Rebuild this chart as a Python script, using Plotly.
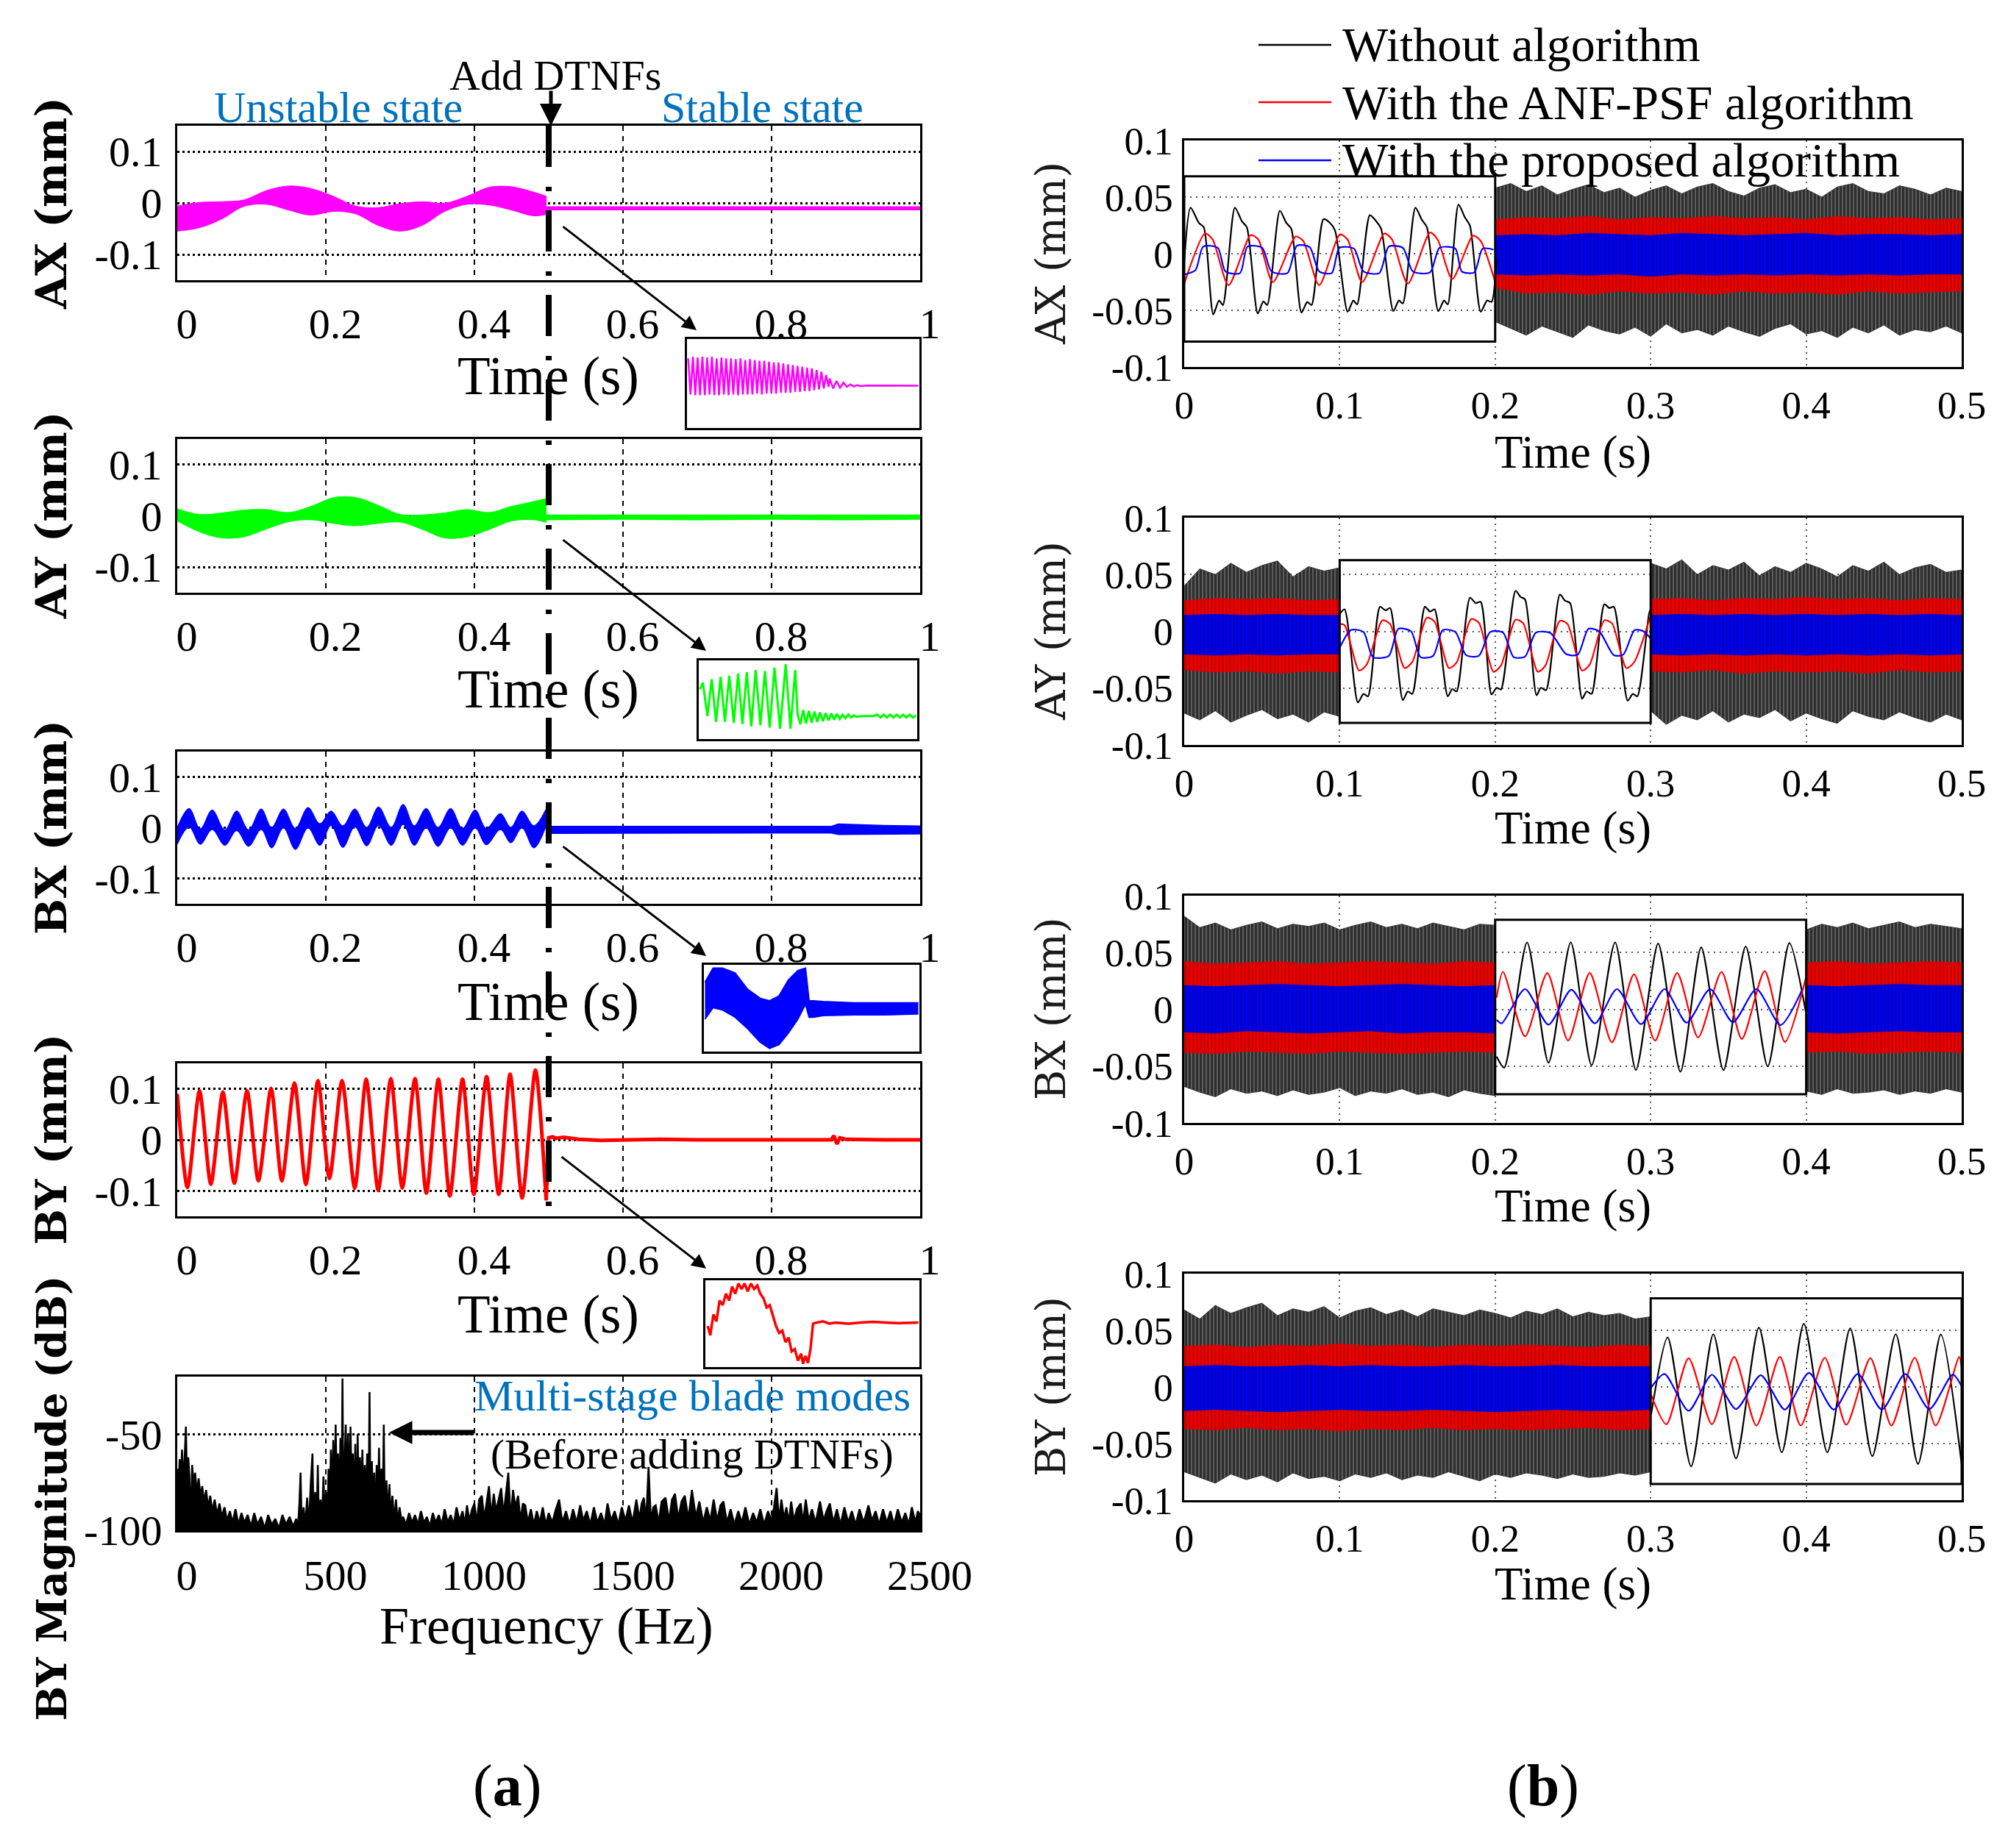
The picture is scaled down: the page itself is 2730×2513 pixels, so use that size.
import numpy as np
import plotly.graph_objects as go

W, H = 2730, 2513
OFF = 8  # page body margin in the browser
SERIF = "Liberation Serif"
SERIF_WIDE = "DejaVu Serif"
MAGENTA, GREEN, BLUE, RED, BLACK = "#ff00ff", "#00ff00", "#0000ff", "#ff0000", "#000000"
NOTE_BLUE = "#0072bd"

# ---------------------------------------------------------------- panel (a)
left_time_ticks = [0, 0.2, 0.4, 0.6, 0.8, 1]
left_time_text = ["0", "0.2", "0.4", "0.6", "0.8", "1"]
left_amp_ticks = [-0.1, 0, 0.1]
left_amp_text = ["-0.1", "0", "0.1"]
add_dtnfs_time = 0.5

# AX (magenta) envelope before / after the filters
ax_unst_t = [0, 0.03, 0.06, 0.09, 0.12, 0.15, 0.18, 0.21, 0.24, 0.27, 0.30, 0.33, 0.36, 0.39, 0.42, 0.45, 0.48, 0.497]
ax_unst_hi = [-0.006, 0.001, 0.0025, 0.006, 0.024, 0.033, 0.028, 0.013, -0.006, -0.009, -0.0015, 0.0025,
              -0.0005, 0.013, 0.0305, 0.0315, 0.021, 0.013]
ax_unst_lo = [-0.0547, -0.048, -0.031, -0.0064, -0.0025, -0.0138, -0.0236, -0.0163, -0.0212, -0.0433, -0.0547,
              -0.0433, -0.0163, -0.0025, -0.004, -0.0138, -0.0251, -0.022]
ax_stab_t = [0.497, 0.6, 0.7, 0.8, 0.9, 1.0]
ax_stab_hi = [-0.008, -0.008, -0.009, -0.008, -0.008, -0.008]
ax_stab_lo = [-0.013, -0.013, -0.014, -0.013, -0.013, -0.013]

# AY (green)
ay_unst_t = [0, 0.03, 0.06, 0.09, 0.12, 0.15, 0.18, 0.21, 0.24, 0.27, 0.30, 0.33, 0.36, 0.39, 0.42, 0.45, 0.48, 0.497]
ay_unst_hi = [0.0137, 0.0028, 0.0057, 0.0114, 0.0123, 0.0066, 0.0185, 0.0355, 0.036, 0.0209, 0.0028, 0.0019,
              0.0057, 0.0123, 0.0066, 0.0185, 0.028, 0.0341]
ay_unst_lo = [-0.010, -0.0313, -0.0431, -0.0408, -0.0256, -0.0114, -0.0076, -0.0147, -0.0194, -0.0147, -0.0123,
              -0.0265, -0.0431, -0.0408, -0.0265, -0.010, -0.0076, -0.0133]
ay_stab_t = [0.497, 0.6, 0.7, 0.8, 0.9, 1.0]
ay_stab_hi = [0.001, 0.001, 0.0, 0.001, 0.0, 0.001]
ay_stab_lo = [-0.007, -0.006, -0.007, -0.006, -0.007, -0.006]

# BX (blue) - envelope at the half cycles of the slow oscillation
bx_unst_t = [0, 0.016, 0.031, 0.047, 0.064, 0.080, 0.096, 0.113, 0.127, 0.143, 0.159, 0.176, 0.192, 0.207,
             0.223, 0.239, 0.255, 0.271, 0.288, 0.304, 0.319, 0.335, 0.351, 0.368, 0.384, 0.401, 0.416, 0.435,
             0.449, 0.464, 0.480, 0.496]
bx_unst_hi = [0.001, 0.038, -0.002, 0.035, -0.004, 0.033, -0.004, 0.037, 0.001, 0.037, -0.001, 0.040, 0.008,
              0.033, 0.004, 0.037, 0.001, 0.041, 0.001, 0.046, 0.004, 0.038, 0.001, 0.038, -0.001, 0.035, -0.001,
              0.028, 0.001, 0.033, 0.004, 0.036]
bx_unst_lo = [-0.033, 0.001, -0.033, -0.004, -0.035, -0.006, -0.037, -0.004, -0.040, -0.001, -0.043, -0.001,
              -0.035, 0.004, -0.039, 0.001, -0.036, 0.004, -0.035, 0.006, -0.035, -0.001, -0.037, -0.001, -0.035,
              -0.001, -0.034, -0.004, -0.030, -0.001, -0.040, 0.001]
bx_stab_t = [0.497, 0.6, 0.7, 0.8, 0.88, 0.89, 0.95, 1.0]
bx_stab_hi = [0.002, 0.002, 0.001, 0.002, 0.002, 0.007, 0.004, 0.003]
bx_stab_lo = [-0.011, -0.011, -0.010, -0.010, -0.010, -0.013, -0.012, -0.012]

# BY (red) - peaks and troughs
by_pts = [(0, 0.09), (0.0137, -0.0933), (0.0299, 0.0962), (0.0452, -0.0871), (0.0614, 0.0937),
          (0.0768, -0.0852), (0.0939, 0.0962), (0.1092, -0.0804), (0.1263, 0.1010), (0.1408, -0.0804),
          (0.1578, 0.1115), (0.1732, -0.0876), (0.1894, 0.1162), (0.2048, -0.0756), (0.2218, 0.1162),
          (0.2389, -0.0947), (0.2543, 0.1191), (0.2705, -0.0995), (0.2875, 0.1201), (0.3029, -0.0947),
          (0.3200, 0.1201), (0.3353, -0.1043), (0.3515, 0.1191), (0.3669, -0.1100), (0.3840, 0.1191),
          (0.3993, -0.1067), (0.4164, 0.1239), (0.4326, -0.1067), (0.4480, 0.1286), (0.4642, -0.1138),
          (0.4821, 0.1368), (0.4966, -0.1186)]
by_stab = [(0.4966, -0.1186), (0.5, 0.004), (0.505, 0.006), (0.51, 0.003), (0.52, 0.005), (0.54, 0.001),
           (0.57, -0.001), (0.6, 0.0), (0.65, 0.001), (0.7, 0.0), (0.75, 0.0), (0.8, 0.0), (0.85, 0.0),
           (0.88, 0.0), (0.884, 0.008), (0.888, -0.008), (0.892, 0.004), (0.9, 0.001), (0.95, 0.0), (1.0, 0.0)]

# spectrum of BY before the filters (Hz, dB)
spec_floor_db = -100
spec_low = [(0, -68), (4, -78), (8, -63), (12, -74), (16, -58), (20, -71), (24, -66), (29, -46), (33, -76),
            (37, -62), (41, -72), (45, -99), (50, -66), (55, -76), (60, -70), (66, -80), (72, -73), (78, -82),
            (84, -77), (90, -85), (97, -79), (104, -88), (111, -82), (118, -90), (126, -84), (134, -92),
            (142, -86), (150, -93), (159, -88), (168, -95), (177, -90), (186, -96), (196, -89), (206, -97),
            (216, -91), (226, -96), (237, -92), (248, -98), (259, -91), (270, -97), (282, -93), (294, -99),
            (306, -92), (318, -97), (330, -94), (342, -99), (354, -92), (366, -97), (378, -93), (390, -98)]
spec_modes = [(400, -94), (406, -99), (411, -86), (415, -70), (419, -99), (425, -88), (431, -97), (437, -83),
              (443, -98), (449, -76), (455, -60), (459, -99), (464, -80), (469, -96), (473, -66), (477, -100),
              (482, -84), (487, -95), (492, -72), (496, -92), (501, -80), (505, -100), (509, -68), (513, -90),
              (517, -58), (521, -85), (525, -53), (529, -82), (533, -45), (537, -78), (541, -60), (545, -88),
              (549, -52), (553, -80), (556, -21), (559, -84), (563, -62), (567, -45), (571, -80), (575, -50),
              (579, -86), (583, -46), (587, -78), (591, -60), (595, -90), (599, -55), (603, -99), (607, -50),
              (611, -82), (615, -62), (619, -88), (623, -58), (627, -92), (631, -66), (635, -90), (639, -60),
              (643, -99), (647, -28), (651, -100), (655, -64), (659, -90), (663, -70), (667, -100), (671, -66),
              (675, -84), (679, -57), (683, -88), (687, -68), (691, -95), (695, -45), (699, -100), (704, -74),
              (709, -92), (714, -76), (719, -94), (724, -82), (730, -95), (736, -84), (742, -96), (748, -88),
              (755, -95)]
spec_high = [(760, -93), (770, -97), (780, -91), (790, -96), (800, -92), (810, -97), (820, -90), (830, -96),
             (840, -93), (850, -98), (860, -91), (870, -96), (880, -92), (890, -97), (900, -89), (910, -96),
             (920, -92), (930, -97), (940, -88), (950, -95), (960, -90), (968, -97), (975, -87), (983, -95),
             (992, -89), (1000, -86), (1008, -96), (1016, -84), (1025, -82), (1033, -94), (1041, -85),
             (1049, -77), (1057, -93), (1065, -81), (1073, -90), (1081, -84), (1090, -78), (1098, -92),
             (1106, -82), (1114, -70), (1122, -94), (1130, -79), (1138, -88), (1147, -82), (1155, -95),
             (1163, -86), (1171, -87), (1180, -96), (1190, -89), (1200, -97), (1210, -90), (1220, -96),
             (1230, -88), (1240, -97), (1250, -91), (1262, -96), (1274, -89), (1285, -84), (1296, -96),
             (1308, -90), (1320, -97), (1332, -89), (1344, -96), (1356, -87), (1366, -95), (1378, -90),
             (1390, -97), (1402, -88), (1414, -96), (1426, -91), (1438, -97), (1448, -86), (1460, -95),
             (1472, -90), (1484, -97), (1496, -88), (1508, -95), (1520, -87), (1532, -96), (1545, -84),
             (1555, -94), (1563, -86), (1570, -83), (1578, -95), (1586, -67), (1594, -95), (1602, -88),
             (1610, -87), (1620, -96), (1630, -85), (1643, -83), (1655, -95), (1665, -84), (1675, -81),
             (1686, -94), (1697, -85), (1708, -82), (1720, -94), (1732, -79), (1745, -93), (1757, -85),
             (1770, -96), (1782, -88), (1794, -95), (1805, -84), (1817, -95), (1828, -87), (1838, -85),
             (1850, -96), (1862, -89), (1875, -97), (1888, -90), (1900, -96), (1912, -88), (1925, -97),
             (1938, -91), (1950, -96), (1962, -89), (1975, -97), (1988, -90), (2000, -95), (2008, -88),
             (2017, -78), (2025, -95), (2033, -84), (2042, -94), (2050, -88), (2058, -96), (2066, -85),
             (2075, -95), (2085, -89), (2098, -86), (2106, -96), (2115, -84), (2125, -95), (2136, -89),
             (2148, -96), (2163, -85), (2175, -95), (2185, -90), (2196, -86), (2208, -96), (2220, -89),
             (2232, -97), (2245, -88), (2258, -96), (2270, -90), (2283, -97), (2296, -89), (2310, -96),
             (2326, -87), (2338, -95), (2350, -90), (2362, -97), (2375, -89), (2388, -96), (2400, -90),
             (2412, -97), (2425, -89), (2438, -96), (2450, -91), (2462, -97), (2472, -88), (2484, -96),
             (2492, -90), (2500, -92)]
freq_ticks = [0, 500, 1000, 1500, 2000, 2500]
freq_text = ["0", "500", "1000", "1500", "2000", "2500"]
mag_ticks = [-100, -50]
mag_text = ["-100", "-50"]

# zoomed views around the switching instant (normalised inset units)
ax_zoom_peaks = [0.80, 0.82, 0.81, 0.82, 0.81, 0.82, 0.80, 0.81, 0.80, 0.80, 0.79, 0.80, 0.78, 0.79, 0.78,
                 0.77, 0.77, 0.76, 0.75, 0.75, 0.74, 0.73, 0.72, 0.71, 0.70, 0.69, 0.68, 0.66, 0.64, 0.60]
ax_zoom_troughs = [0.37, 0.36, 0.36, 0.36, 0.37, 0.36, 0.36, 0.37, 0.36, 0.37, 0.36, 0.37, 0.37, 0.37, 0.38,
                   0.37, 0.38, 0.38, 0.38, 0.39, 0.39, 0.39, 0.40, 0.40, 0.41, 0.41, 0.42, 0.43, 0.44, 0.46]
ax_zoom_tail = [(0.615, 0.56), (0.63, 0.44), (0.645, 0.53), (0.66, 0.45), (0.675, 0.51), (0.69, 0.46),
                (0.705, 0.49), (0.72, 0.465), (0.735, 0.48), (0.75, 0.47), (0.78, 0.475), (1.0, 0.474)]
ay_zoom = [(0.0, 0.64), (0.014, 0.73), (0.035, 0.28), (0.055, 0.776), (0.075, 0.202), (0.096, 0.807),
           (0.116, 0.202), (0.136, 0.823), (0.157, 0.186), (0.177, 0.854), (0.197, 0.171), (0.217, 0.87),
           (0.238, 0.14), (0.258, 0.90), (0.28, 0.155), (0.301, 0.885), (0.323, 0.124), (0.345, 0.932),
           (0.371, 0.109), (0.397, 0.978), (0.419, 0.109), (0.441, 0.90), (0.452, 0.30), (0.465, 0.17),
           (0.478, 0.36), (0.491, 0.18), (0.504, 0.35), (0.517, 0.19), (0.53, 0.34), (0.543, 0.20),
           (0.556, 0.33), (0.569, 0.21), (0.582, 0.32), (0.595, 0.22), (0.608, 0.315), (0.621, 0.23),
           (0.634, 0.31), (0.647, 0.24), (0.66, 0.30), (0.673, 0.25), (0.686, 0.30), (0.699, 0.26),
           (0.712, 0.29), (0.725, 0.27), (0.75, 0.28), (0.80, 0.28), (0.82, 0.30), (0.835, 0.26),
           (0.85, 0.30), (0.865, 0.26), (0.88, 0.30), (0.895, 0.26), (0.91, 0.30), (0.925, 0.26),
           (0.94, 0.30), (0.955, 0.26), (0.97, 0.30), (0.985, 0.26), (1.0, 0.29)]
bx_zoom_u = [0, 0.038, 0.082, 0.141, 0.2, 0.259, 0.303, 0.347, 0.391, 0.435, 0.471, 0.488, 0.509, 0.553,
             0.7, 0.847, 1.0]
bx_zoom_hi = [0.817, 0.99, 0.99, 0.93, 0.73, 0.62, 0.59, 0.65, 0.845, 0.96, 0.99, 0.59, 0.59, 0.58, 0.565,
              0.565, 0.565]
bx_zoom_lo = [0.366, 0.507, 0.479, 0.39, 0.25, 0.085, 0.01, 0.056, 0.197, 0.366, 0.55, 0.39, 0.39, 0.41,
              0.42, 0.42, 0.43]
by_zoom = [(0.006, 0.472), (0.018, 0.359), (0.033, 0.613), (0.047, 0.528), (0.062, 0.782), (0.077, 0.726),
           (0.092, 0.867), (0.107, 0.782), (0.121, 0.952), (0.136, 0.867), (0.151, 0.99), (0.166, 0.924),
           (0.180, 0.99), (0.195, 0.895), (0.210, 0.99), (0.225, 0.924), (0.240, 0.966), (0.254, 0.867),
           (0.269, 0.811), (0.284, 0.698), (0.299, 0.726), (0.314, 0.585), (0.328, 0.472), (0.343, 0.387),
           (0.358, 0.415), (0.373, 0.274), (0.388, 0.331), (0.402, 0.161), (0.417, 0.189), (0.432, 0.048),
           (0.447, 0.133), (0.456, 0.01), (0.467, 0.105), (0.479, 0.02), (0.491, 0.189), (0.503, 0.50),
           (0.521, 0.514), (0.550, 0.528), (0.580, 0.50), (0.609, 0.514), (0.669, 0.50), (0.728, 0.514),
           (0.787, 0.523), (0.846, 0.514), (0.905, 0.506), (1.0, 0.514)]

# ---------------------------------------------------------------- panel (b)
right_time_ticks = [0, 0.1, 0.2, 0.3, 0.4, 0.5]
right_time_text = ["0", "0.1", "0.2", "0.3", "0.4", "0.5"]
right_amp_ticks = [-0.1, -0.05, 0, 0.05, 0.1]
right_amp_text = ["-0.1", "-0.05", "0", "0.05", "0.1"]
series_names = ["Without algorithm", "With the ANF-PSF algorithm", "With the proposed algorithm"]

# dense parts: (segment start, segment end, upper envelope, lower envelope)
rax_black = [(0.2, 0.5,
              [0.058, 0.062, 0.055, 0.060, 0.052, 0.057, 0.061, 0.054, 0.058, 0.050, 0.056, 0.060, 0.053, 0.059,
               0.062, 0.055, 0.051, 0.058, 0.061, 0.054, 0.057, 0.050, 0.059, 0.062, 0.055, 0.053, 0.060, 0.057,
               0.052, 0.058, 0.055],
              [-0.060, -0.066, -0.072, -0.064, -0.069, -0.074, -0.063, -0.068, -0.071, -0.065, -0.073, -0.062,
               -0.070, -0.067, -0.072, -0.064, -0.069, -0.073, -0.066, -0.062, -0.071, -0.068, -0.074, -0.065,
               -0.070, -0.063, -0.072, -0.067, -0.069, -0.064, -0.070])]
rax_red = [(0.2, 0.5,
            [0.030, 0.032, 0.031, 0.033, 0.030, 0.032, 0.031, 0.033, 0.031, 0.032, 0.030, 0.033, 0.031, 0.032,
             0.030, 0.031],
            [-0.030, -0.035, -0.034, -0.036, -0.033, -0.035, -0.034, -0.036, -0.033, -0.035, -0.034, -0.036,
             -0.033, -0.035, -0.034, -0.033])]
rax_blue = [(0.2, 0.5,
             [0.016, 0.017, 0.016, 0.018, 0.017, 0.016, 0.018, 0.017, 0.016, 0.017, 0.018, 0.016, 0.017, 0.017,
              0.016, 0.017],
             [-0.018, -0.019, -0.018, -0.019, -0.018, -0.020, -0.018, -0.019, -0.018, -0.019, -0.018, -0.019,
              -0.018, -0.019, -0.018, -0.018])]
ray_black = [(0.0, 0.1,
              [0.040, 0.055, 0.050, 0.060, 0.052, 0.058, 0.062, 0.048, 0.057, 0.053, 0.056],
              [-0.072, -0.078, -0.070, -0.080, -0.074, -0.069, -0.077, -0.073, -0.080, -0.071, -0.075]),
             (0.3, 0.5,
              [0.060, 0.055, 0.063, 0.050, 0.058, 0.054, 0.061, 0.049, 0.057, 0.052, 0.060, 0.055, 0.048, 0.058,
               0.053, 0.061, 0.050, 0.056, 0.059, 0.052, 0.054],
              [-0.070, -0.082, -0.074, -0.078, -0.070, -0.080, -0.073, -0.076, -0.069, -0.079, -0.072, -0.077,
               -0.081, -0.070, -0.075, -0.078, -0.071, -0.076, -0.080, -0.073, -0.078])]
ray_red = [(0.0, 0.1, [0.027, 0.029, 0.028, 0.029, 0.027, 0.028],
            [-0.034, -0.036, -0.035, -0.037, -0.035, -0.036]),
           (0.3, 0.5, [0.028, 0.029, 0.027, 0.029, 0.028, 0.030, 0.028, 0.029, 0.027, 0.029, 0.028],
            [-0.035, -0.036, -0.034, -0.037, -0.035, -0.036, -0.035, -0.037, -0.034, -0.036, -0.035])]
ray_blue = [(0.0, 0.1, [0.014, 0.015, 0.014, 0.015, 0.014, 0.014],
             [-0.020, -0.021, -0.020, -0.021, -0.020, -0.020]),
            (0.3, 0.5, [0.014, 0.015, 0.014, 0.015, 0.014, 0.015, 0.014, 0.015, 0.014, 0.015, 0.014],
             [-0.020, -0.021, -0.020, -0.021, -0.020, -0.021, -0.020, -0.021, -0.020, -0.021, -0.020])]
rbx_black = [(0.0, 0.2,
              [0.082, 0.072, 0.076, 0.070, 0.074, 0.077, 0.071, 0.075, 0.073, 0.076, 0.070, 0.074, 0.077, 0.072,
               0.075, 0.071, 0.076, 0.073, 0.070, 0.075, 0.074],
              [-0.068, -0.073, -0.077, -0.070, -0.074, -0.072, -0.076, -0.071, -0.075, -0.073, -0.069, -0.076,
               -0.072, -0.074, -0.070, -0.075, -0.073, -0.077, -0.071, -0.074, -0.076]),
             (0.4, 0.5,
              [0.070, 0.075, 0.072, 0.076, 0.071, 0.074, 0.077, 0.072, 0.075, 0.073, 0.071],
              [-0.072, -0.075, -0.070, -0.074, -0.073, -0.071, -0.075, -0.072, -0.074, -0.070, -0.073])]
rbx_red = [(0.0, 0.2, [0.042, 0.040, 0.041, 0.042, 0.040, 0.041, 0.042, 0.041, 0.040, 0.042, 0.041],
            [-0.038, -0.039, -0.037, -0.038, -0.039, -0.037, -0.038, -0.039, -0.038, -0.037, -0.038]),
           (0.4, 0.5, [0.041, 0.042, 0.040, 0.041, 0.042, 0.041],
            [-0.038, -0.037, -0.039, -0.038, -0.037, -0.038])]
rbx_blue = [(0.0, 0.2, [0.021, 0.020, 0.021, 0.022, 0.021, 0.020, 0.021, 0.022, 0.021, 0.020, 0.021],
             [-0.020, -0.021, -0.019, -0.020, -0.021, -0.020, -0.019, -0.021, -0.020, -0.020, -0.021]),
            (0.4, 0.5, [0.021, 0.020, 0.021, 0.022, 0.021, 0.021],
             [-0.020, -0.021, -0.020, -0.019, -0.020, -0.020])]
rby_black = [(0.0, 0.3,
              [0.068, 0.060, 0.072, 0.065, 0.070, 0.074, 0.063, 0.069, 0.066, 0.071, 0.061, 0.067, 0.070, 0.064,
               0.068, 0.062, 0.069, 0.066, 0.063, 0.068, 0.065, 0.061, 0.067, 0.064, 0.069, 0.062, 0.066, 0.063,
               0.065, 0.060, 0.062],
              [-0.075, -0.080, -0.085, -0.077, -0.082, -0.078, -0.084, -0.076, -0.081, -0.079, -0.083, -0.077,
               -0.080, -0.076, -0.082, -0.078, -0.080, -0.075, -0.079, -0.083, -0.077, -0.080, -0.076, -0.078,
               -0.081, -0.077, -0.080, -0.079, -0.076, -0.078, -0.075])]
rby_red = [(0.0, 0.3,
            [0.036, 0.037, 0.035, 0.037, 0.036, 0.038, 0.036, 0.037, 0.035, 0.037, 0.036, 0.037, 0.036, 0.035,
             0.037, 0.036],
            [-0.037, -0.038, -0.036, -0.038, -0.037, -0.039, -0.037, -0.038, -0.036, -0.038, -0.037, -0.038,
             -0.037, -0.036, -0.038, -0.037])]
rby_blue = [(0.0, 0.3,
             [0.018, 0.019, 0.018, 0.018, 0.019, 0.018, 0.019, 0.018, 0.018, 0.019, 0.018, 0.018, 0.019, 0.018,
              0.018, 0.018],
             [-0.021, -0.020, -0.021, -0.022, -0.021, -0.020, -0.021, -0.021, -0.020, -0.021, -0.022, -0.021,
              -0.020, -0.021, -0.021, -0.020])]

# magnified windows (time, mm)
rax_win = (0.0, 0.2, -0.0776, 0.0684)
rax_win_black = [(0, -0.0077), (0.0041, 0.0407), (0.0094, 0.0273), (0.0126, 0.0233), (0.0187, -0.0536),
                 (0.0224, -0.0413), (0.0249, -0.0453), (0.0326, 0.0407), (0.0371, 0.0286), (0.0403, 0.0233),
                 (0.0473, -0.0528), (0.0509, -0.0421), (0.0534, -0.0453), (0.0615, 0.0380), (0.0656, 0.0273),
                 (0.0689, 0.0219), (0.0754, -0.0520), (0.0791, -0.0426), (0.0819, -0.0453), (0.0896, 0.0305),
                 (0.0937, 0.0273), (0.0970, 0.0206), (0.1051, -0.0512), (0.1088, -0.0413), (0.1112, -0.0448),
                 (0.1194, 0.0340), (0.1235, 0.0286), (0.1267, 0.0219), (0.1345, -0.0507), (0.1381, -0.0413),
                 (0.1406, -0.0440), (0.1487, 0.0407), (0.1528, 0.0300), (0.1561, 0.0233), (0.1634, -0.0507),
                 (0.1671, -0.0413), (0.1695, -0.0448), (0.1764, 0.0434), (0.1805, 0.0321), (0.1838, 0.0246),
                 (0.1907, -0.0512), (0.1948, -0.0413), (0.1976, -0.0426), (0.2009, -0.0050)]
rax_win_red = [(0, -0.0265), (0.0134, 0.0179), (0.0183, 0.0125), (0.0285, -0.0278), (0.0428, 0.0165),
               (0.0477, 0.0125), (0.0570, -0.0251), (0.0717, 0.0152), (0.0766, 0.0112), (0.0868, -0.0278),
               (0.1002, 0.0171), (0.1051, 0.0125), (0.1145, -0.0251), (0.1288, 0.0179), (0.1337, 0.0125),
               (0.1438, -0.0265), (0.1581, 0.0187), (0.1630, 0.0125), (0.1724, -0.0224), (0.1858, 0.0160),
               (0.1907, 0.0112), (0.2009, -0.0292)]
rax_win_blue = [(0, -0.0184), (0.0073, -0.0144), (0.0122, 0.0063), (0.0216, 0.0052), (0.0265, -0.0157),
                (0.0359, -0.0171), (0.0407, 0.0063), (0.0501, 0.0052), (0.0562, -0.0157), (0.0664, -0.0171),
                (0.0725, 0.0071), (0.0807, 0.0058), (0.0868, -0.0157), (0.0949, -0.0171), (0.0998, 0.0052),
                (0.1092, 0.0044), (0.1153, -0.0157), (0.1255, -0.0171), (0.1316, 0.0063), (0.1406, 0.0052),
                (0.1471, -0.0157), (0.1581, -0.0165), (0.1642, 0.0052), (0.1744, 0.0044), (0.1785, -0.0157),
                (0.1866, -0.0165), (0.1919, 0.0044), (0.1989, 0.0036)]
ray_win = (0.1, 0.3, -0.0806, 0.0626)
ray_win_black = [(0.0994, 0.0140), (0.1031, 0.0194), (0.1117, -0.0626), (0.1153, -0.0551), (0.1182, -0.0572),
                 (0.1259, 0.0216), (0.1296, 0.0184), (0.1324, 0.0205), (0.1406, -0.0605), (0.1438, -0.0529),
                 (0.1467, -0.0551), (0.1548, 0.0216), (0.1581, 0.0173), (0.1610, 0.0194), (0.1695, -0.0572),
                 (0.1724, -0.0508), (0.1752, -0.0529), (0.1838, 0.0296), (0.1875, 0.0248), (0.1907, 0.0259),
                 (0.1976, -0.0555), (0.2009, -0.0497), (0.2037, -0.0512), (0.2131, 0.0356), (0.2164, 0.0302),
                 (0.2192, 0.0281), (0.2266, -0.0562), (0.2294, -0.0497), (0.2327, -0.0518), (0.2416, 0.0324),
                 (0.2449, 0.0270), (0.2482, 0.0248), (0.2559, -0.0594), (0.2588, -0.0529), (0.2620, -0.0551),
                 (0.2702, 0.0238), (0.2734, 0.0205), (0.2763, 0.0216), (0.2852, -0.0611), (0.2885, -0.0551),
                 (0.2914, -0.0572), (0.2995, 0.0184), (0.3007, 0.0140)]
ray_win_red = [(0.0994, 0.0065), (0.1031, 0.0054), (0.1125, -0.0346), (0.1174, -0.0292), (0.1275, 0.0097),
               (0.1324, 0.0065), (0.1418, -0.0324), (0.1467, -0.0270), (0.1561, 0.0119), (0.1610, 0.0086),
               (0.1703, -0.0324), (0.1752, -0.0274), (0.1846, 0.0108), (0.1895, 0.0076), (0.1989, -0.0356),
               (0.2037, -0.0302), (0.2131, 0.0102), (0.2180, 0.0071), (0.2274, -0.0356), (0.2323, -0.0302),
               (0.2416, 0.0093), (0.2465, 0.0065), (0.2559, -0.0346), (0.2608, -0.0292), (0.2702, 0.0097),
               (0.2751, 0.0071), (0.2844, -0.0324), (0.2893, -0.0274), (0.2995, 0.0119)]
ray_win_blue = [(0.0994, -0.0162), (0.1072, 0.0011), (0.1153, -0.0006), (0.1214, -0.0227), (0.1316, -0.0216),
                (0.1377, 0.0022), (0.1459, 0.0), (0.1520, -0.0227), (0.1601, -0.0216), (0.1663, 0.0011),
                (0.1744, -0.0006), (0.1813, -0.0210), (0.1895, -0.0216), (0.1968, -0.0006), (0.2050, -0.0011),
                (0.2119, -0.0227), (0.2192, -0.0222), (0.2262, -0.0011), (0.2355, -0.0015), (0.2457, -0.0201),
                (0.2531, -0.0205), (0.2600, 0.0022), (0.2669, 0.0), (0.2763, -0.0210), (0.2824, -0.0205),
                (0.2897, 0.0011), (0.2954, 0.0), (0.3007, -0.0076)]
rbx_win = (0.2, 0.4, -0.0747, 0.0788)
rbx_win_black = [(0.2009, -0.0416), (0.2058, -0.0514), (0.2205, 0.0589), (0.2343, -0.0470), (0.2486, 0.0589),
                 (0.2620, -0.0492), (0.2771, 0.0589), (0.2905, -0.0535), (0.3048, 0.0578), (0.3191, -0.0550),
                 (0.3325, 0.0546), (0.3468, -0.0535), (0.3611, 0.0552), (0.3753, -0.0503), (0.3892, 0.0583),
                 (0.3998, -0.0027)]
rbx_win_red = [(0.2009, 0.0103), (0.2050, 0.0330), (0.2192, -0.0239), (0.2335, 0.0319), (0.2469, -0.0276),
               (0.2608, 0.0319), (0.2751, -0.0291), (0.2893, 0.0308), (0.3028, -0.0276), (0.3170, 0.0319),
               (0.3305, -0.0248), (0.3456, 0.0330), (0.3586, -0.0261), (0.3733, 0.0336), (0.3863, -0.0287),
               (0.3998, 0.0276)]
rbx_win_blue = [(0.2009, -0.0092), (0.2042, -0.0124), (0.2192, 0.0178), (0.2343, -0.0135), (0.2490, 0.0172),
                (0.2641, -0.0124), (0.2783, 0.0178), (0.2938, -0.0131), (0.3089, 0.0178), (0.3231, -0.0118),
                (0.3382, 0.0178), (0.3529, -0.0114), (0.3680, 0.0178), (0.3835, -0.0139), (0.3973, 0.0168)]
rby_win = (0.3, 0.5, -0.0857, 0.0782)
rby_win_black = [(0.3003, -0.0243), (0.3109, 0.0438), (0.3260, -0.0702), (0.3403, 0.0466), (0.3549, -0.0632),
                 (0.3696, 0.0524), (0.3843, -0.0578), (0.3985, 0.0557), (0.4136, -0.0578), (0.4283, 0.0518),
                 (0.4425, -0.0611), (0.4576, 0.0466), (0.4719, -0.0680), (0.4866, 0.0464), (0.5, -0.0686)]
rby_win_red = [(0.3003, -0.0070), (0.3101, -0.0330), (0.3244, 0.0254), (0.3394, -0.0330), (0.3537, 0.0265),
               (0.3680, -0.0341), (0.3831, 0.0265), (0.3965, -0.0341), (0.4120, 0.0258), (0.4258, -0.0334),
               (0.4413, 0.0254), (0.4548, -0.0341), (0.4698, 0.0258), (0.4833, -0.0341), (0.4984, 0.0265),
               (0.5, 0.0168)]
rby_win_blue = [(0.3003, -0.0005), (0.3089, 0.0114), (0.3244, -0.0211), (0.3394, 0.0107), (0.3549, -0.0196),
                (0.3708, 0.0103), (0.3863, -0.0200), (0.4018, 0.0124), (0.4177, -0.0200), (0.4332, 0.0114),
                (0.4487, -0.0200), (0.4637, 0.0114), (0.4792, -0.0196), (0.4943, 0.0109), (0.5, 0.0005)]

# ---------------------------------------------------------------- figure
fig = go.Figure()


def X(px):
    return (px - OFF) / W


def Y(py):
    return 1 - (py - OFF) / H


def sid(i):
    return "" if i == 1 else str(i)


def add_band(i, t_hi, hi, t_lo, lo, color, fill=None, shape="linear", width=1.0, pattern=None):
    s = sid(i)
    fig.add_trace(go.Scatter(x=list(t_hi), y=hi, mode="lines", line=dict(color=color, width=width, shape=shape),
                             xaxis="x" + s, yaxis="y" + s, showlegend=False, hoverinfo="skip"))
    kw = dict(fillpattern=pattern) if pattern else {}
    fig.add_trace(go.Scatter(x=list(t_lo), y=lo, mode="lines", line=dict(color=color, width=width, shape=shape),
                             fill="tonexty", fillcolor=fill or color, xaxis="x" + s, yaxis="y" + s,
                             showlegend=False, hoverinfo="skip", **kw))


def add_line(i, pts, color, width, shape="linear", name=None):
    s = sid(i)
    x, y = zip(*pts)
    fig.add_trace(go.Scatter(x=list(x), y=list(y), mode="lines", name=name,
                             line=dict(color=color, width=width, shape=shape, smoothing=0.7),
                             xaxis="x" + s, yaxis="y" + s, showlegend=False, hoverinfo="skip"))


# left time traces
add_band(1, ax_unst_t, ax_unst_hi, ax_unst_t, ax_unst_lo, MAGENTA, shape="spline")
add_band(1, ax_stab_t, ax_stab_hi, ax_stab_t, ax_stab_lo, MAGENTA, width=2)
add_band(2, ay_unst_t, ay_unst_hi, ay_unst_t, ay_unst_lo, GREEN, shape="spline")
add_band(2, ay_stab_t, ay_stab_hi, ay_stab_t, ay_stab_lo, GREEN, width=2)
add_band(3, bx_unst_t, bx_unst_hi, bx_unst_t, bx_unst_lo, BLUE, shape="spline")
add_band(3, bx_stab_t, bx_stab_hi, bx_stab_t, bx_stab_lo, BLUE, width=2)
add_line(4, by_pts, RED, 5, shape="spline")
add_line(4, by_stab, RED, 5)

# spectrum, filled down to the floor of the axis
spec = spec_low + spec_modes + spec_high
sx = [spec[0][0]] + [p[0] for p in spec] + [spec[-1][0]]
sy = [spec_floor_db] + [p[1] for p in spec] + [spec_floor_db]
fig.add_trace(go.Scatter(x=sx, y=sy, mode="lines", fill="toself", fillcolor=BLACK,
                         line=dict(color=BLACK, width=2.5), xaxis="x5", yaxis="y5",
                         showlegend=False, hoverinfo="skip"))

# insets
n_osc = 2 * len(ax_zoom_peaks)
ax_osc_u = np.linspace(0, 0.61, n_osc)
ax_osc_v = [v for pair in zip(ax_zoom_peaks, ax_zoom_troughs) for v in pair]
add_line(6, list(zip(ax_osc_u, ax_osc_v)) + ax_zoom_tail, MAGENTA, 2.5)
add_line(7, ay_zoom, GREEN, 3)
add_band(8, bx_zoom_u, bx_zoom_hi, bx_zoom_u, bx_zoom_lo, BLUE, width=2)
add_line(9, by_zoom, RED, 3.5)

# right panels: the fast oscillations are drawn as hatched bands
right_panels = [
    (10, rax_black, rax_red, rax_blue, rax_win, rax_win_black, rax_win_red, rax_win_blue),
    (11, ray_black, ray_red, ray_blue, ray_win, ray_win_black, ray_win_red, ray_win_blue),
    (12, rbx_black, rbx_red, rbx_blue, rbx_win, rbx_win_black, rbx_win_red, rbx_win_blue),
    (13, rby_black, rby_red, rby_blue, rby_win, rby_win_black, rby_win_red, rby_win_blue),
]
band_style = [
    ("#222222", dict(shape="|", fgcolor="#000000", bgcolor="#5c5c5c", size=5, solidity=0.6)),
    ("#dd0000", dict(shape="|", fgcolor="#5a0000", bgcolor="#ee0000", size=5, solidity=0.28)),
    ("#0000dd", dict(shape="|", fgcolor="#00004a", bgcolor="#0000f0", size=5, solidity=0.28)),
]
line_colors = [BLACK, RED, BLUE]
for i, kb, kr, kbl, win, wb, wr, wbl in right_panels:
    for segs, (lc, pat) in zip((kb, kr, kbl), band_style):
        for t0, t1, hi, lo in segs:
            add_band(i, np.linspace(t0, t1, len(hi)), hi, np.linspace(t0, t1, len(lo)), lo, lc,
                     fill=pat["bgcolor"], width=0.8, pattern=pat)
    for pts, c, nm in zip((wb, wr, wbl), line_colors, series_names):
        add_line(i, pts, c, 2.2, shape="spline", name=nm)

# ---------------------------------------------------------------- axes
axes = {}


def frame(i, xpx, ypx, xr, yr, xkw, ykw):
    s = sid(i)
    common = dict(showline=True, linecolor="black", mirror=True, zeroline=False, ticks="", fixedrange=True,
                  automargin=False)
    axes["xaxis" + s] = dict(common, domain=[X(xpx[0]), X(xpx[1])], range=xr, anchor="y" + s, **xkw)
    axes["yaxis" + s] = dict(common, domain=[Y(ypx[1]), Y(ypx[0])], range=yr, anchor="x" + s, **ykw)


tick_l = dict(family=SERIF, size=58, color="black")
tick_r = dict(family=SERIF, size=53, color="black")
left_x = (241, 1251)
left_rows = [(171, 381), (597, 806), (1022, 1229), (1446, 1654)]
for k, rows in enumerate(left_rows):
    frame(k + 1, left_x, rows, [0, 1], [-0.15, 0.15],
          dict(linewidth=3, tickvals=left_time_ticks, ticktext=left_time_text, tickfont=tick_l,
               ticklabelstandoff=6, ticklabelshift=13, showgrid=True, gridcolor="black", gridwidth=2,
               griddash="7px,7px"),
          dict(linewidth=3, tickvals=left_amp_ticks, ticktext=left_amp_text, tickfont=tick_l,
               ticklabelstandoff=6, showgrid=True, gridcolor="black", gridwidth=2.5, griddash="3px,4px"))
frame(5, left_x, (1872, 2081), [0, 2500], [-100, -20],
      dict(linewidth=3, tickvals=freq_ticks, ticktext=freq_text, tickfont=tick_l, ticklabelstandoff=8,
           ticklabelshift=13, showgrid=True, gridcolor="black", gridwidth=2, griddash="7px,7px"),
      dict(linewidth=3, tickvals=mag_ticks, ticktext=mag_text, tickfont=tick_l, ticklabelstandoff=6,
           showgrid=True, gridcolor="black", gridwidth=2.5, griddash="3px,4px"))

inset_boxes = [((934, 1250), (461, 582)), ((950, 1247), (898, 1005)),
               ((957, 1250), (1312, 1430)), ((959, 1250), (1741, 1859))]
for k, (bx, by) in enumerate(inset_boxes):
    frame(6 + k, bx, by, [-0.005, 1.005], [-0.03, 1.03],
          dict(linewidth=3, showticklabels=False, showgrid=False),
          dict(linewidth=3, showticklabels=False, showgrid=False))

right_x = (1610, 2667)
right_rows = [(191, 499), (704, 1013), (1218, 1527), (1732, 2040)]
for k, rows in enumerate(right_rows):
    frame(10 + k, right_x, rows, [0, 0.5], [-0.1, 0.1],
          dict(linewidth=2.5, tickvals=right_time_ticks, ticktext=right_time_text, tickfont=tick_r,
               ticklabelstandoff=4, showgrid=True, gridcolor="#555555", gridwidth=1.5, griddash="2px,6px"),
          dict(linewidth=2.5, tickvals=right_amp_ticks, ticktext=right_amp_text, tickfont=tick_r,
               ticklabelstandoff=2, showgrid=True, gridcolor="#555555", gridwidth=1.5, griddash="2px,6px"))

# ---------------------------------------------------------------- shapes
shapes = [dict(type="line", xref="x", yref="paper", x0=add_dtnfs_time, x1=add_dtnfs_time,
               y0=Y(171), y1=Y(1657), layer="above",
               line=dict(color="black", width=8, dash="56px,27px,6px,26px"))]
for i, win in zip((10, 11, 12, 13), (rax_win, ray_win, rbx_win, rby_win)):
    s = sid(i)
    shapes.append(dict(type="rect", xref="x" + s, yref="y" + s, x0=win[0], x1=win[1], y0=win[2], y1=win[3],
                       layer="above", line=dict(color="black", width=3)))
legend_rows = [61, 139, 218]
for yy, c in zip(legend_rows, line_colors):
    shapes.append(dict(type="line", xref="paper", yref="paper", x0=X(1711), x1=X(1810),
                       y0=Y(yy), y1=Y(yy), line=dict(color=c, width=2.5)))

# ---------------------------------------------------------------- annotations
ann = []


def text(t, x, y, size, color="black", family=SERIF, angle=0, xanchor="center"):
    ann.append(dict(text=t, x=X(x), y=Y(y), xref="paper", yref="paper", showarrow=False,
                    font=dict(family=family, size=size, color=color), textangle=angle,
                    xanchor=xanchor, yanchor="middle"))


def arrow(tail, head, width, size):
    ann.append(dict(text="", x=X(head[0]), y=Y(head[1]), xref="paper", yref="paper",
                    ax=tail[0] - head[0], ay=tail[1] - head[1], showarrow=True, arrowhead=2,
                    arrowsize=size, arrowwidth=width, arrowcolor="black"))


text("Add DTNFs", 755, 102, 58)
text("Unstable state", 460, 146, 60, NOTE_BLUE)
text("Stable state", 1036, 146, 60, NOTE_BLUE)
text("Multi-stage blade modes", 941, 1898, 60, NOTE_BLUE)
text("(Before adding DTNFs)", 941, 1978, 57)
arrow((749, 122), (749, 171), 5, 1.2)
arrow((764, 307), (947, 449), 3, 1.3)
arrow((764, 733), (960, 885), 3, 1.3)
arrow((764, 1150), (960, 1300), 3, 1.3)
arrow((762, 1572), (960, 1725), 3, 1.3)
arrow((646, 1948), (529, 1948), 7, 0.9)

for yy in (512, 937, 1362, 1787):
    text("Time (s)", 745, yy, 73)
text("Frequency (Hz)", 743, 2211, 72)
for t, yy in zip(["AX (mm)", "AY (mm)", "BX (mm)", "BY (mm)"], (277, 701, 1125, 1550)):
    text("<b>" + t + "</b>", 70, yy, 58, family=SERIF_WIDE, angle=-90)
text("<b>BY Magnitude (dB)</b>", 70, 2037, 56, family=SERIF_WIDE, angle=-90)

for yy in (615, 1126, 1640, 2154):
    text("Time (s)", 2138, yy, 63)
for t, yy in zip(["AX (mm)", "AY (mm)", "BX (mm)", "BY (mm)"], (345, 858, 1372, 1886)):
    text(t, 1428, yy, 56, color="#1a1a1a", family=SERIF_WIDE, angle=-90)

for nm, yy in zip(series_names, legend_rows):
    text(nm, 1823, yy, 66, xanchor="left")

text("(<b>a</b>)", 689, 2428, 80)
text("(<b>b</b>)", 2098, 2428, 80)

fig.update_layout(width=W, height=H, margin=dict(l=0, r=0, t=0, b=0, pad=0, autoexpand=False),
                  paper_bgcolor="white", plot_bgcolor="white", showlegend=False, shapes=shapes,
                  annotations=ann, **axes)
fig.write_html("out.html")
